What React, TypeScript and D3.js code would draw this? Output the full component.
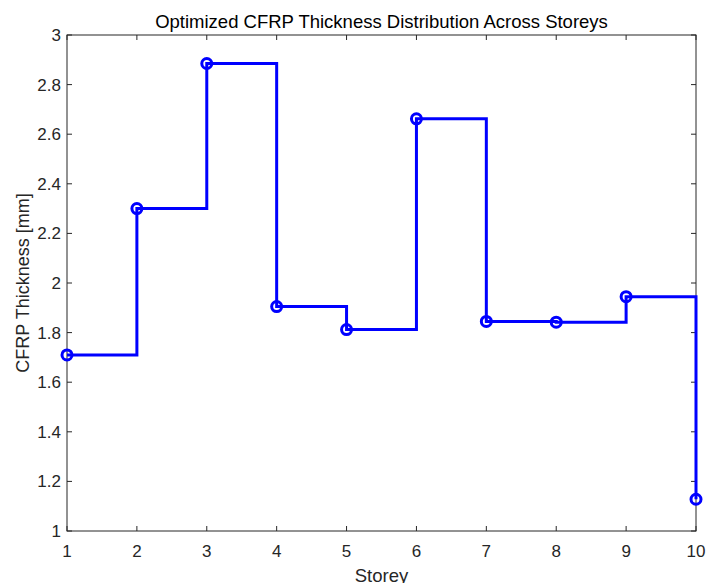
import React, { useEffect, useRef } from "react";
import * as d3 from "d3";

const storeys = [1, 2, 3, 4, 5, 6, 7, 8, 9, 10];
const thickness = [1.71, 2.3, 2.885, 1.905, 1.812, 2.662, 1.845, 1.842, 1.945, 1.128];
const yTicks = [1, 1.2, 1.4, 1.6, 1.8, 2, 2.2, 2.4, 2.6, 2.8, 3];

const App = () => {
  const ref = useRef<SVGSVGElement>(null);

  useEffect(() => {
    const svg = d3.select(ref.current);
    svg.selectAll("*").remove();

    const left = 67, right = 696, top = 35, bottom = 531;
    const x = d3.scaleLinear().domain([1, 10]).range([left, right]);
    const y = d3.scaleLinear().domain([1, 3]).range([bottom, top]);
    const font = "'Liberation Sans', Arial, sans-serif";
    const axisColor = "#262626";

    svg.append("rect").attr("x", left).attr("y", top)
      .attr("width", right - left).attr("height", bottom - top)
      .attr("fill", "#fff").attr("stroke", axisColor).attr("stroke-width", 1);

    // x ticks (bottom and top, pointing inward)
    storeys.forEach((s) => {
      svg.append("line").attr("x1", x(s)).attr("x2", x(s))
        .attr("y1", bottom).attr("y2", bottom - 5).attr("stroke", axisColor);
      svg.append("line").attr("x1", x(s)).attr("x2", x(s))
        .attr("y1", top).attr("y2", top + 5).attr("stroke", axisColor);
      svg.append("text").attr("x", x(s)).attr("y", bottom + 26)
        .attr("text-anchor", "middle").attr("font-family", font)
        .attr("font-size", 17).attr("fill", axisColor).text(s);
    });

    yTicks.forEach((t) => {
      svg.append("line").attr("x1", left).attr("x2", left + 5)
        .attr("y1", y(t)).attr("y2", y(t)).attr("stroke", axisColor);
      svg.append("line").attr("x1", right).attr("x2", right - 5)
        .attr("y1", y(t)).attr("y2", y(t)).attr("stroke", axisColor);
      svg.append("text").attr("x", left - 6).attr("y", y(t) + 6)
        .attr("text-anchor", "end").attr("font-family", font)
        .attr("font-size", 17).attr("fill", axisColor).text(d3.format("~g")(t));
    });

    const pts: [number, number][] = storeys.map((s, i) => [s, thickness[i]]);
    const line = d3.line<[number, number]>()
      .x((d) => x(d[0])).y((d) => y(d[1]))
      .curve(d3.curveStepAfter);

    svg.append("path").datum(pts).attr("d", line)
      .attr("fill", "none").attr("stroke", "#0000ff").attr("stroke-width", 3);

    svg.selectAll("circle.pt").data(pts).enter().append("circle")
      .attr("class", "pt")
      .attr("cx", (d) => x(d[0])).attr("cy", (d) => y(d[1]))
      .attr("r", 5).attr("fill", "none")
      .attr("stroke", "#0000ff").attr("stroke-width", 3);

    svg.append("text").attr("x", (left + right) / 2).attr("y", 28)
      .attr("text-anchor", "middle").attr("font-family", font)
      .attr("font-size", 18.5).attr("fill", "#000")
      .text("Optimized CFRP Thickness Distribution Across Storeys");

    svg.append("text").attr("x", (left + right) / 2).attr("y", 582)
      .attr("text-anchor", "middle").attr("font-family", font)
      .attr("font-size", 18.5).attr("fill", axisColor).text("Storey");

    svg.append("text")
      .attr("transform", `translate(29,${(top + bottom) / 2}) rotate(-90)`)
      .attr("text-anchor", "middle").attr("font-family", font)
      .attr("font-size", 18).attr("fill", axisColor).text("CFRP Thickness [mm]");
  }, []);

  return (
    <svg ref={ref} width={707} height={583}
      style={{ position: "absolute", left: 0, top: 0, background: "#fff" }} />
  );
};

export default App;
